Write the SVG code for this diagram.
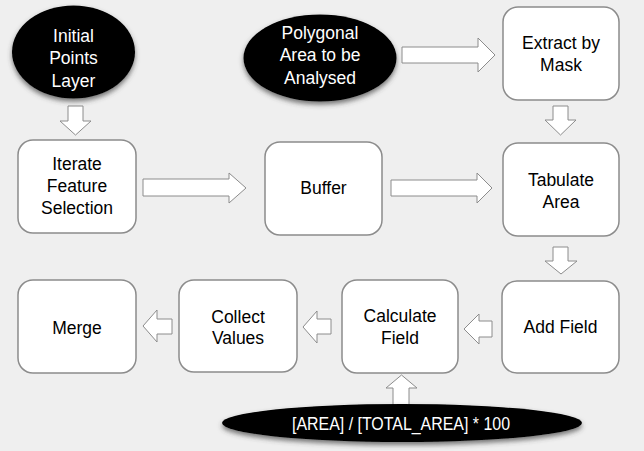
<svg xmlns="http://www.w3.org/2000/svg" width="644" height="451" viewBox="0 0 644 451">
  <style>
    .box { fill: #ffffff; stroke: #8c8c8c; stroke-width: 1.5; }
    .ell { fill: #000000; filter: url(#shadow); }
    .arrow { fill: #ffffff; stroke: #8c8c8c; stroke-width: 1; stroke-linejoin: miter; }
    text { font-family: "Liberation Sans", Arial, sans-serif; font-size: 17.5px; text-anchor: middle; fill: #000000; }
    .inv { fill: #ffffff; }
  </style>
  <defs>
    <filter id="shadow" x="-20%" y="-30%" width="140%" height="170%">
      <feDropShadow dx="0" dy="3" stdDeviation="2.5" flood-color="#404040" flood-opacity="0.7"/>
    </filter>
  </defs>
  <rect x="0" y="0" width="644" height="451" fill="#efefef"/>

  <g id="connectors">
    <polygon class="arrow" points="68,106 83,106 83,121 91,121 75.5,135 60,121 68,121"/>
    <polygon class="arrow" points="143,179 229,179 229,173 246,188 229,203 229,196 143,196"/>
    <polygon class="arrow" points="391,180 477,180 477,173 492,188 477,203 477,196 391,196"/>
    <polygon class="arrow" points="402,47 478,47 478,38 495,55 478,72 478,63 402,63"/>
    <polygon class="arrow" points="553,106 568,106 568,120 576,120 560.5,135 545,120 553,120"/>
    <polygon class="arrow" points="553,247 568,247 568,261 577,261 561,274 545,261 553,261"/>
    <polygon class="arrow" points="492,321 479,321 479,314 464,329 479,344 479,337 492,337"/>
    <polygon class="arrow" points="331,319 317,319 317,311 303,327 317,343 317,334 331,334"/>
    <polygon class="arrow" points="172,319 157,319 157,310 143,326 157,342 157,334 172,334"/>
    <polygon class="arrow" points="393,410 393,388 386,388 401.5,375 417,388 409,388 409,410"/>
  </g>

  <g id="initial-points-layer">
    <ellipse class="ell" cx="73.5" cy="52" rx="61.5" ry="46.5"/>
    <text class="inv" x="73.5" y="42">Initial</text>
    <text class="inv" x="73.5" y="64">Points</text>
    <text class="inv" x="73.5" y="87">Layer</text>
  </g>

  <g id="polygonal-area">
    <ellipse class="ell" cx="320" cy="58" rx="76.5" ry="43.5"/>
    <text class="inv" x="320" y="39">Polygonal</text>
    <text class="inv" x="320" y="61">Area to be</text>
    <text class="inv" x="320" y="84">Analysed</text>
  </g>

  <g id="extract-by-mask">
    <rect class="box" x="503" y="7" width="116" height="93" rx="15"/>
    <text x="561" y="49">Extract by</text>
    <text x="561" y="71">Mask</text>
  </g>

  <g id="iterate-feature-selection">
    <rect class="box" x="18" y="140" width="118" height="93" rx="15"/>
    <text x="77" y="170">Iterate</text>
    <text x="77" y="192">Feature</text>
    <text x="77" y="214">Selection</text>
  </g>

  <g id="buffer">
    <rect class="box" x="265" y="142" width="117" height="93" rx="15"/>
    <text x="323.5" y="194">Buffer</text>
  </g>

  <g id="tabulate-area">
    <rect class="box" x="503" y="143" width="116" height="93" rx="15"/>
    <text x="561" y="186">Tabulate</text>
    <text x="561" y="208">Area</text>
  </g>

  <g id="merge">
    <rect class="box" x="18" y="280" width="118" height="93" rx="15"/>
    <text x="77" y="334">Merge</text>
  </g>

  <g id="collect-values">
    <rect class="box" x="179" y="280" width="118" height="92" rx="15"/>
    <text x="238" y="323">Collect</text>
    <text x="238" y="344">Values</text>
  </g>

  <g id="calculate-field">
    <rect class="box" x="342" y="280" width="116" height="93" rx="15"/>
    <text x="400" y="322">Calculate</text>
    <text x="400" y="344">Field</text>
  </g>

  <g id="add-field">
    <rect class="box" x="502" y="281" width="117" height="92" rx="15"/>
    <text x="560.5" y="333">Add Field</text>
  </g>

  <g id="formula">
    <ellipse class="ell" cx="402" cy="423" rx="180" ry="19"/>
    <text class="inv" x="401" y="430" font-size="18" textLength="218" lengthAdjust="spacingAndGlyphs">[AREA] / [TOTAL_AREA] * 100</text>
  </g>
</svg>
